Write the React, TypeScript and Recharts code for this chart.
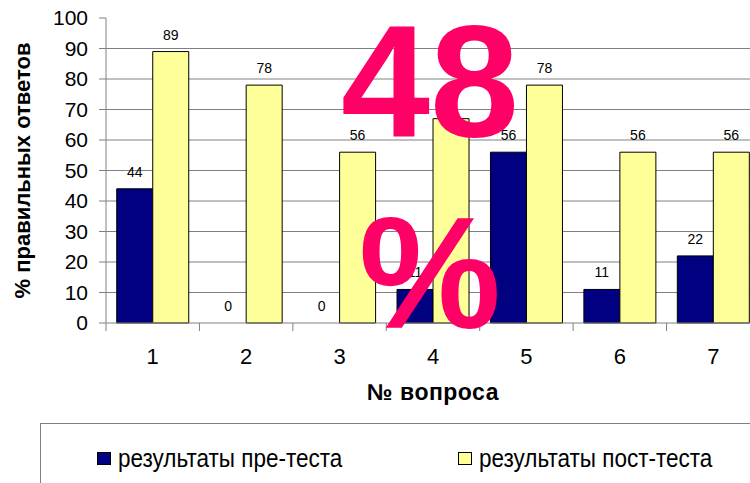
import { BarChart, Bar, XAxis, YAxis, CartesianGrid, Legend, LabelList, Cell } from 'recharts'

const categories = ['1', '2', '3', '4', '5', '6', '7']
const preTest = [44, 0, 0, 11, 56, 11, 22]
const postTest = [89, 78, 56, 67, 78, 56, 56]
const yTicks = [0, 10, 20, 30, 40, 50, 60, 70, 80, 90, 100]
const gridValues = [10, 20, 30, 40, 50, 60, 70, 80, 90]

const preName = 'результаты пре-теста'
const postName = 'результаты пост-теста'
const overlayTop = '48'
const overlayBottom = '%'

const FONT = 'Arial, "Liberation Sans", sans-serif'
const NAVY = '#000080'
const PALE = '#FFFF99'
const PINK = '#FF0066'

const CHART_W = 800
const CHART_H = 483
const MARGIN = { top: 18, right: 40, left: 0, bottom: 60 }
const Y_WIDTH = 106
const STEP = (CHART_W - MARGIN.left - MARGIN.right - Y_WIDTH) / categories.length

const data = categories.map((c, i) => ({ q: c, pre: preTest[i], post: postTest[i] }))

// keep zero-valued bars in place so their "0" label is still drawn
const zeroSize = (value: number) => (value === 0 ? 0.01 : 0)

const CategoryTick = ({ x, y, payload }: any) => (
  <g>
    <line x1={x - STEP / 2} x2={x - STEP / 2} y1={y - 8} y2={y} stroke="#808080" />
    <text x={x} y={y + 33} textAnchor="middle" fontSize={22} fontFamily={FONT} fill="#000">
      {payload.value}
    </text>
  </g>
)

const legendText = {
  position: 'absolute' as const,
  top: 19,
  whiteSpace: 'nowrap' as const,
  lineHeight: '30px',
  transform: 'scaleX(0.9)',
  transformOrigin: 'left center'
}

const LegendBox = () => (
  <div
    style={{
      position: 'absolute',
      left: 40,
      top: 423,
      width: 800,
      height: 100,
      border: '1px solid #808080',
      fontFamily: FONT,
      fontSize: 25,
      color: '#000'
    }}
  >
    <div style={{ position: 'absolute', left: 56, top: 28, width: 12, height: 11, background: NAVY, border: '1px solid #000' }} />
    <div style={{ ...legendText, left: 77 }}>{preName}</div>
    <div style={{ position: 'absolute', left: 417, top: 28, width: 12, height: 11, background: PALE, border: '1px solid #000' }} />
    <div style={{ ...legendText, left: 438 }}>{postName}</div>
  </div>
)

const overlayStyle = {
  position: 'absolute' as const,
  left: 330,
  width: 200,
  textAlign: 'center' as const,
  fontFamily: FONT,
  fontWeight: 'bold' as const,
  fontSize: 160,
  lineHeight: 1,
  color: PINK
}

export default function App() {
  return (
    <div style={{ position: 'absolute', left: 0, top: 0, width: 750, height: 483, overflow: 'hidden', background: '#fff' }}>
      <BarChart
        width={CHART_W}
        height={CHART_H}
        data={data}
        margin={MARGIN}
        barCategoryGap="11.5%"
        barGap={0}
      >
        <CartesianGrid
          vertical={false}
          horizontalValues={gridValues}
          stroke="#808080"
          strokeWidth={1}
        />
        <XAxis
          dataKey="q"
          tickLine={false}
          tickSize={8}
          tickMargin={0}
          tick={<CategoryTick />}
          axisLine={{ stroke: '#808080' }}
          height={100}
          interval={0}
          label={{
            value: '№ вопроса',
            position: 'insideBottom',
            offset: 23,
            fontSize: 23,
            fontWeight: 'bold',
            fontFamily: FONT,
            fill: '#000',
            letterSpacing: 0.5
          }}
        />
        <YAxis
          width={Y_WIDTH}
          domain={[0, 100]}
          ticks={yTicks}
          interval={0}
          tickSize={7}
          tickMargin={11}
          tickLine={{ stroke: '#808080' }}
          axisLine={{ stroke: '#808080' }}
          tick={{ fontSize: 21, fontFamily: FONT, fill: '#000' }}
          label={{
            value: '% правильных ответов',
            angle: -90,
            position: 'insideLeft',
            offset: 22,
            fontSize: 22,
            fontWeight: 'bold',
            fontFamily: FONT,
            fill: '#000',
            style: { textAnchor: 'middle' }
          }}
        />
        <Legend
          layout="horizontal"
          verticalAlign="middle"
          content={() => null}
        />
        <Bar
          dataKey="pre"
          name={preName}
          fill={NAVY}
          strokeWidth={1}
          minPointSize={zeroSize}
          isAnimationActive={false}
        >
          {preTest.map((v, i) => (
            <Cell key={i} stroke={v === 0 ? 'none' : '#000'} />
          ))}
          <LabelList dataKey="pre" position="top" offset={12} fontSize={14} fontFamily={FONT} fill="#000" />
        </Bar>
        <Bar
          dataKey="post"
          name={postName}
          fill={PALE}
          strokeWidth={1}
          minPointSize={zeroSize}
          isAnimationActive={false}
        >
          {postTest.map((v, i) => (
            <Cell key={i} stroke={v === 0 ? 'none' : '#000'} />
          ))}
          <LabelList dataKey="post" position="top" offset={12} fontSize={14} fontFamily={FONT} fill="#000" />
        </Bar>
      </BarChart>
      <LegendBox />
      <div style={{ ...overlayStyle, top: 1 }}>{overlayTop}</div>
      <div style={{ ...overlayStyle, top: 193 }}>{overlayBottom}</div>
    </div>
  )
}
